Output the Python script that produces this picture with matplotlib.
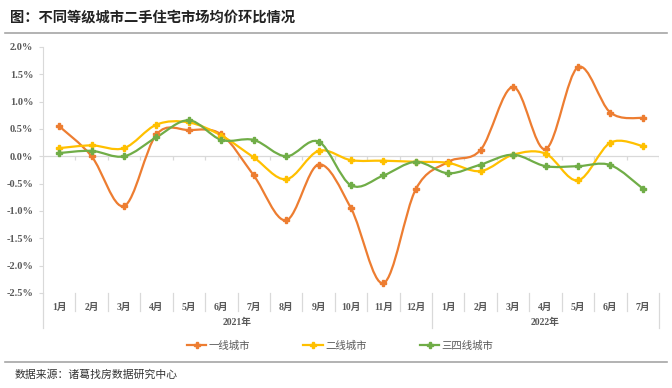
import numpy as np
import matplotlib
matplotlib.use('Agg')
import matplotlib.pyplot as plt
from matplotlib.path import Path
from matplotlib.patches import PathPatch
from matplotlib.lines import Line2D

plt.rcParams['font.family'] = ['serif', 'Noto Sans CJK SC']
plt.rcParams['font.serif'] = ['Liberation Serif', 'DejaVu Serif']

# data (环比, %)
months = ['1月', '2月', '3月', '4月', '5月', '6月', '7月', '8月', '9月', '10月', '11月', '12月',
          '1月', '2月', '3月', '4月', '5月', '6月', '7月']
years = ['2021年', '2022年']
tier1 = [0.55, 0.00, -0.91, 0.40, 0.48, 0.40, -0.35, -1.17, -0.15, -0.95, -2.32, -0.60,
         -0.10, 0.12, 1.27, 0.13, 1.63, 0.80, 0.70]
tier2 = [0.15, 0.20, 0.15, 0.58, 0.62, 0.38, -0.02, -0.42, 0.10, -0.07, -0.08, -0.10,
         -0.12, -0.27, 0.03, 0.05, -0.44, 0.25, 0.19]
tier3 = [0.06, 0.10, 0.00, 0.35, 0.66, 0.30, 0.30, 0.00, 0.27, -0.53, -0.35, -0.10,
         -0.31, -0.15, 0.03, -0.18, -0.18, -0.16, -0.59]
series_names = ['一线城市', '二线城市', '三四线城市']
colors = ['#ED7D31', '#FFC000', '#70AD47']


def smooth_path(x, y):
    # excel-like smoothed line: catmull-rom segments as cubic bezier
    pts = np.column_stack([x, y]).astype(float)
    n = len(pts)
    verts = [pts[0]]
    codes = [Path.MOVETO]
    for i in range(n - 1):
        p0 = pts[i - 1] if i > 0 else pts[i]
        p1 = pts[i]
        p2 = pts[i + 1]
        p3 = pts[i + 2] if i + 2 < n else pts[i + 1]
        c1 = p1 + (p2 - p0) / 6.0
        c2 = p2 - (p3 - p1) / 6.0
        verts += [c1, c2, p2]
        codes += [Path.CURVE4] * 3
    return Path(verts, codes)


W, H = 672, 388
fig = plt.figure(figsize=(W / 100, H / 100), dpi=100)
ax = fig.add_axes([43 / W, 1 - 293 / H, (659 - 43) / W, (293 - 47) / H])

x = np.arange(len(months))
for vals, c in zip([tier1, tier2, tier3], colors):
    ax.add_patch(PathPatch(smooth_path(x, vals), facecolor='none', edgecolor=c, lw=1.6, zorder=3))
    ax.plot(x, vals, ls='none', marker='P', ms=5, color=c, mec=c, zorder=4)

ax.set_xlim(-0.5, len(months) - 0.5)
ax.set_ylim(-2.5, 2.0)
for s in ['top', 'right', 'bottom']:
    ax.spines[s].set_visible(False)
ax.spines['left'].set_color('#D9D9D9')
ax.spines['left'].set_bounds(-2.5, 2.0)

yt = np.arange(-2.5, 2.01, 0.5)
ax.set_yticks(yt)
ax.set_yticklabels(['%.1f%%' % v for v in yt], fontsize=7.5, fontweight='bold', color='#595959')
ax.tick_params(axis='y', length=3, color='#D9D9D9', pad=4)

ax.set_xticks(x)
ax.set_xticklabels(months, fontsize=7, fontweight='bold', color='#595959')
ax.tick_params(axis='x', length=0, pad=7)

# zero line and its small ticks
ax.axhline(0, color='#D9D9D9', lw=0.9, zorder=1)
bounds = np.arange(len(months) + 1) - 0.5
ax.vlines(bounds, -0.07, 0, color='#D9D9D9', lw=0.9, zorder=1)

# category separators below the plot
trans = ax.get_xaxis_transform()
for b in bounds:
    long_line = b in (-0.5, 11.5, len(months) - 0.5)
    y1 = -0.143 if long_line else -0.073
    ax.plot([b, b], [0, y1], transform=trans, color='#D9D9D9', lw=0.9, clip_on=False)
ax.text(5.5, -0.12, years[0], transform=trans, ha='center', va='center',
        fontsize=7, fontweight='bold', color='#595959')
ax.text(15, -0.12, years[1], transform=trans, ha='center', va='center',
        fontsize=7, fontweight='bold', color='#595959')

handles = [Line2D([], [], color=c, lw=1.6, marker='P', ms=4) for c in colors]
fig.legend(handles, series_names, loc='center', bbox_to_anchor=(340 / W, 1 - 346 / H), ncol=3,
           frameon=False, handlelength=1.9, handletextpad=0.2, columnspacing=5.1,
           prop={'family': ['Noto Sans CJK SC'], 'size': 7.5}, labelcolor='#595959')

# title, rules and source
fig.text(10 / W, 1 - 18 / H, '图：不同等级城市二手住宅市场均价环比情况', fontsize=10.3,
         fontweight='bold', family=['Noto Sans CJK SC'], va='center', color='#222222')
fig.add_artist(Line2D([5 / W, 667 / W], [1 - 33 / H, 1 - 33 / H], color='#A6A6A6', lw=1.2))
fig.add_artist(Line2D([5 / W, 667 / W], [1 - 362 / H, 1 - 362 / H], color='#A6A6A6', lw=1.2))
fig.text(15 / W, 1 - 375 / H, '数据来源：诸葛找房数据研究中心', fontsize=7.8,
         family=['Noto Sans CJK SC'], va='center', color='#333333')

fig.savefig('out.png', dpi=100)
